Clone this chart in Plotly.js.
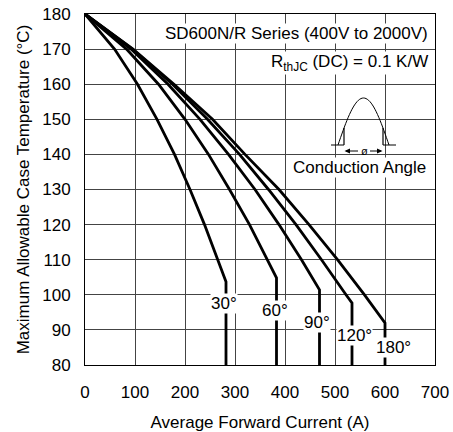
<!DOCTYPE html>
<html><head><meta charset="utf-8">
<script src="https://cdn.plot.ly/plotly-3.0.1.min.js"></script>
<style>html,body{margin:0;padding:0;background:#fff}</style>
</head><body><div id="chart" style="width:453px;height:432px"></div>
<script>
// ---- data ----
const angleLabels = ['30°', '60°', '90°', '120°', '180°'];
const current30  = [0, 59, 105, 144, 179, 210, 239, 266, 282, 282];
const temp30     = [180, 170, 160, 150, 140, 130, 120, 110, 103.7, 80];
const current60  = [0, 83, 147, 200, 247, 289, 329, 365, 383, 383];
const temp60     = [180, 170, 160, 150, 140, 130, 120, 110, 104.8, 80];
const current90  = [0, 92, 166, 230, 287, 340, 388, 433, 469, 469];
const temp90     = [180, 170, 160, 150, 140, 130, 120, 110, 101.4, 80];
const current120 = [0, 95, 175, 245, 309, 367, 422, 473, 522, 534, 534];
const temp120    = [180, 170, 160, 150, 140, 130, 120, 110, 100, 97.7, 80];
const current180 = [0, 96, 178, 255, 320, 388, 448, 505, 559, 600, 600];
const temp180    = [180, 170, 160, 150, 140, 130, 120, 110, 100, 92, 80];
const xTicks = [0, 100, 200, 300, 400, 500, 600, 700];
const yTicks = [80, 90, 100, 110, 120, 130, 140, 150, 160, 170, 180];

const seriesX = [current30, current60, current90, current120, current180];
const seriesY = [temp30, temp60, temp90, temp120, temp180];

// label anchor positions (data coords)
const labelPos = [[278, 97.4], [380, 95.4], [464, 92.2], [538, 88.3], [616, 85.1]];

const FONT = 'Liberation Sans, Arial, sans-serif';

const traces = seriesX.map((xs, i) => ({
  type: 'scatter', mode: 'lines', x: xs, y: seriesY[i],
  line: {color: '#000', width: 2.8}, name: angleLabels[i],
  hoverinfo: 'x+y'
}));

// plot area in px: x 85..435, y 14..365
const L = 85, R = 435, T = 14, B = 365;
const px = (x) => (x - L) / (R - L);
const py = (y) => (B - y) / (B - T);
const pt = (x, y) => px(x).toFixed(4) + ',' + py(y).toFixed(4);

// conduction-angle icon (decoration)
let hump = '';
for (let k = 0; k <= 40; k++) {
  const x = 338 + 51 * k / 40;
  const y = 145 - 47 * Math.sin(Math.PI * k / 40);
  hump += (k === 0 ? 'M' : 'L') + pt(x, y) + ' ';
}
const cutY = 145 - 47 * Math.sin(Math.PI * 6 / 51);
const headL = 'M' + pt(344.5, 151) + ' L' + pt(350, 148.5) + ' L' + pt(350, 153.5) + ' Z';
const headR = 'M' + pt(382.5, 151) + ' L' + pt(377, 148.5) + ' L' + pt(377, 153.5) + ' Z';

const blk = {color: '#000', width: 1};
const shapes = [
  {type: 'rect', xref: 'paper', yref: 'paper', x0: px(326), x1: px(400), y0: py(150), y1: py(92),
   fillcolor: '#fff', line: {width: 0}, layer: 'between'},
  {type: 'rect', xref: 'paper', yref: 'paper', x0: px(283), x1: px(435), y0: py(181), y1: py(150),
   fillcolor: '#fff', line: {width: 0}, layer: 'between'},
  {type: 'path', xref: 'paper', yref: 'paper', path: hump, line: blk},
  {type: 'line', xref: 'paper', yref: 'paper', x0: px(344), x1: px(344), y0: py(145), y1: py(cutY), line: {color: '#000', width: 1.2}},
  {type: 'line', xref: 'paper', yref: 'paper', x0: px(383), x1: px(383), y0: py(145), y1: py(cutY), line: {color: '#000', width: 1.2}},
  {type: 'line', xref: 'paper', yref: 'paper', x0: px(331), x1: px(344), y0: py(145), y1: py(145), line: blk},
  {type: 'line', xref: 'paper', yref: 'paper', x0: px(383), x1: px(396), y0: py(145), y1: py(145), line: blk},
  {type: 'line', xref: 'paper', yref: 'paper', x0: px(346), x1: px(358), y0: py(151), y1: py(151), line: blk},
  {type: 'line', xref: 'paper', yref: 'paper', x0: px(370), x1: px(381), y0: py(151), y1: py(151), line: blk},
  {type: 'path', xref: 'paper', yref: 'paper', path: headL, fillcolor: '#000', line: {width: 0}},
  {type: 'path', xref: 'paper', yref: 'paper', path: headR, fillcolor: '#000', line: {width: 0}}
];

const annotations = [
  {xref: 'paper', yref: 'paper', x: px(429), y: py(34), xanchor: 'right', yanchor: 'middle',
   text: 'SD600N/R Series (400V to 2000V)', showarrow: false, bgcolor: '#fff', borderpad: 0,
   font: {family: FONT, size: 17, color: '#000'}},
  {xref: 'paper', yref: 'paper', x: px(429), y: py(63), xanchor: 'right', yanchor: 'middle',
   text: 'R<sub>thJC</sub> (DC) = 0.1 K/W', showarrow: false, bgcolor: '#fff', borderpad: 0,
   font: {family: FONT, size: 17, color: '#000'}},
  {xref: 'paper', yref: 'paper', x: px(359), y: py(168), xanchor: 'center', yanchor: 'middle',
   text: 'Conduction Angle', showarrow: false, bgcolor: '#fff', borderpad: 0,
   font: {family: FONT, size: 17, color: '#000'}},
  {xref: 'paper', yref: 'paper', x: px(364), y: py(151), xanchor: 'center', yanchor: 'middle',
   text: 'ø', showarrow: false, font: {family: FONT, size: 11, color: '#000'}}
].concat(angleLabels.map((t, i) => ({
  x: labelPos[i][0], y: labelPos[i][1], xref: 'x', yref: 'y', text: t, showarrow: false,
  bgcolor: '#fff', borderpad: 0, font: {family: FONT, size: 17, color: '#000'}
})));

const axisCommon = {
  showgrid: true, gridcolor: '#444', gridwidth: 1, zeroline: false,
  showline: true, linecolor: '#000', linewidth: 1, mirror: true,
  ticks: '', tickfont: {family: FONT, size: 17, color: '#000'}, fixedrange: true
};

const layout = {
  width: 453, height: 432,
  margin: {l: L, r: 453 - R, t: T, b: 432 - B},
  paper_bgcolor: '#fff', plot_bgcolor: '#fff', showlegend: false,
  font: {family: FONT, color: '#000'},
  xaxis: Object.assign({}, axisCommon, {
    range: [0, 700], tickvals: xTicks, ticktext: xTicks.map(String), ticklabelstandoff: 12,
    title: {text: 'Average Forward Current (A)', font: {family: FONT, size: 17, color: '#000'}, standoff: 14}
  }),
  yaxis: Object.assign({}, axisCommon, {
    range: [80, 180], tickvals: yTicks, ticktext: yTicks.map(String), ticklabelstandoff: 10,
    title: {text: 'Maximum Allowable Case Temperature (°C)', font: {family: FONT, size: 17, color: '#000'}, standoff: 8}
  }),
  shapes: shapes, annotations: annotations
};

Plotly.newPlot('chart', traces, layout, {displayModeBar: false, staticPlot: true});
</script></body></html>
